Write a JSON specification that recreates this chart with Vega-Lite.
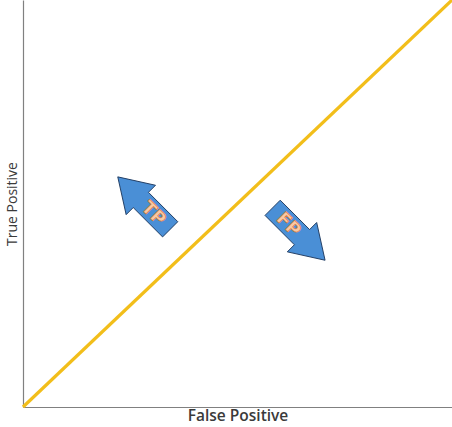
{
  "$schema": "https://vega.github.io/schema/vega-lite/v6.json",
  "width": 429,
  "height": 407,
  "autosize": {"type": "none"},
  "padding": {"left": 23, "top": 0, "right": 0, "bottom": 20},
  "background": "white",
  "config": {"view": {"stroke": null}},
  "datasets": {
    "diag": [{"fp": 0, "tp": 0}, {"fp": 1, "tp": 1}],
    "arrows": [
      {"label": "TP", "fp": 0.282, "tp": 0.501, "dir": 225, "tx": 0.303, "ty": 0.474},
      {"label": "FP", "fp": 0.643, "tp": 0.425, "dir": 45, "tx": 0.618, "ty": 0.447}
    ]
  },
  "layer": [
    {
      "data": {"name": "diag"},
      "mark": {"type": "line", "color": "#F2BE1A", "strokeWidth": 3.2},
      "encoding": {
        "x": {"field": "fp", "type": "quantitative", "scale": {"domain": [0, 1], "nice": false, "zero": false},
          "axis": {"title": "False Positive", "labels": false, "ticks": false, "grid": false, "domainColor": "#808080", "domainWidth": 1.2, "titleFontSize": 15.5, "titleFont": "Open Sans", "titleFontWeight": 600, "titleColor": "#3a3a3a", "titlePadding": 1}},
        "y": {"field": "tp", "type": "quantitative", "scale": {"domain": [0, 1], "nice": false, "zero": false},
          "axis": {"title": "True Positive", "labels": false, "ticks": false, "grid": false, "domainColor": "#808080", "domainWidth": 1.2, "titleFontSize": 14, "titleFont": "Open Sans", "titleFontWeight": "normal", "titleColor": "#3a3a3a", "titlePadding": 4}}
      }
    },
    {
      "data": {"name": "arrows"},
      "mark": {"type": "point", "shape": "M-1,-0.29 L0.12,-0.29 L0.12,-0.56 L1,0 L0.12,0.56 L0.12,0.29 L-1,0.29 Z", "filled": true, "fill": "#4A8FD6", "stroke": "#1E3A5F", "strokeWidth": 0.9, "opacity": 1, "size": 5500},
      "encoding": {
        "x": {"field": "fp", "type": "quantitative"},
        "y": {"field": "tp", "type": "quantitative"},
        "angle": {"field": "dir", "type": "quantitative", "scale": null}
      }
    },
    {
      "data": {"name": "arrows"},
      "mark": {"type": "text", "angle": 45, "fontSize": 18, "fontWeight": "bold", "font": "DejaVu Sans", "fill": "#F8C9A4", "stroke": "#E07B39", "strokeWidth": 0.7},
      "encoding": {
        "x": {"field": "tx", "type": "quantitative"},
        "y": {"field": "ty", "type": "quantitative"},
        "text": {"field": "label"}
      }
    }
  ]
}
